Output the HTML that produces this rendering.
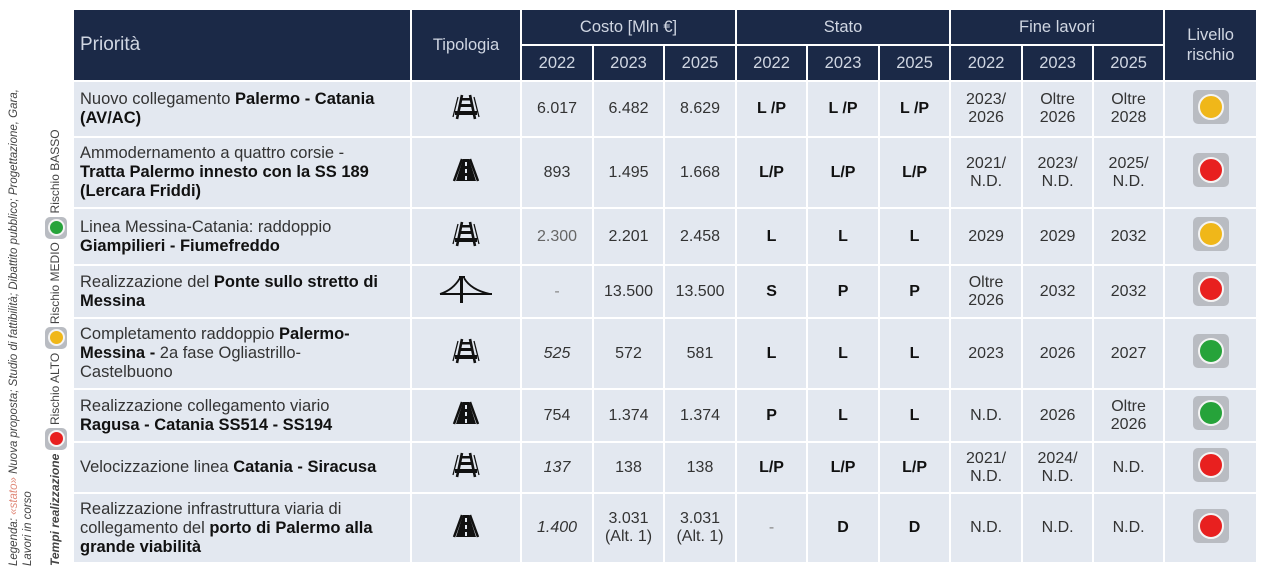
<!DOCTYPE html>
<html><head><meta charset="utf-8"><style>
body{margin:0;width:1272px;height:577px;background:#fff;position:relative;overflow:hidden;font-family:"Liberation Sans",sans-serif;}
table{position:absolute;left:72px;top:8px;border-collapse:collapse;table-layout:fixed;width:1184px;}
td,th{padding:0;border:2px solid #fff;text-align:center;vertical-align:middle;font-size:16px;color:#333;}
th{background:#1b2947;color:#d0d6e2;font-weight:normal;font-size:16.5px;}
td{background:#e3e8f0;}
td.p{text-align:left;padding-left:6px;padding-right:4px;line-height:19px;font-size:16.5px;color:#333;}
td.p b{color:#111;}
td.s{font-weight:bold;color:#111;}
td.i{font-style:italic;}
.lt{display:inline-block;width:36px;height:34px;background:#b9bcc2;border-radius:5px;position:relative;}
.lt i{position:absolute;left:5px;top:4px;width:22px;height:22px;border-radius:50%;border:2px solid #f4f4f4;}
.y i{background:#f0b719}.r i{background:#e8201f}.g i{background:#26a33a}
.leg{position:absolute;transform:rotate(-90deg);transform-origin:0 0;white-space:nowrap;font-size:11.5px;color:#444;}
</style></head><body>
<div class="leg" style="left:8px;top:566px;font-style:italic;">Legenda: <span style="color:#e08a7a">«stato»</span> Nuova proposta; Studio di fattibilità; Dibattito pubblico; Progettazione, Gara,</div>
<div class="leg" style="left:22px;top:566px;font-style:italic;">Lavori in corso</div>
<div class="leg" style="left:45px;top:566px;font-size:12px;"><b><i>Tempi realizzazione</i></b> <span class="lt r" style="width:22px;height:22px;vertical-align:middle"><i style="left:3px;top:3px;width:13px;height:13px;"></i></span> Rischio ALTO <span class="lt y" style="width:22px;height:22px;vertical-align:middle"><i style="left:3px;top:3px;width:13px;height:13px;"></i></span> Rischio MEDIO <span class="lt g" style="width:22px;height:22px;vertical-align:middle"><i style="left:3px;top:3px;width:13px;height:13px;"></i></span> Rischio BASSO</div>
<table>
<colgroup><col style="width:338px"><col style="width:110px"><col style="width:72px"><col style="width:71px"><col style="width:72px"><col style="width:71px"><col style="width:72px"><col style="width:71px"><col style="width:72px"><col style="width:71px"><col style="width:71px"><col style="width:93px"></colgroup>
<tr style="height:36px"><th rowspan="2" style="text-align:left;padding-left:6px;font-size:19px;">Priorità</th><th rowspan="2">Tipologia</th><th colspan="3">Costo [Mln €]</th><th colspan="3">Stato</th><th colspan="3">Fine lavori</th><th rowspan="2" style="line-height:20px">Livello<br>rischio</th></tr>
<tr style="height:36px"><th>2022</th><th>2023</th><th>2025</th><th>2022</th><th>2023</th><th>2025</th><th>2022</th><th>2023</th><th>2025</th></tr>
<tr style="height:56px"><td class="p">Nuovo collegamento <b>Palermo - Catania (AV/AC)</b></td><td>RAIL</td><td>6.017</td><td>6.482</td><td>8.629</td><td class="s">L /P</td><td class="s">L /P</td><td class="s">L /P</td><td>2023/<br>2026</td><td>Oltre<br>2026</td><td>Oltre<br>2028</td><td><span class="lt y"><i></i></span></td></tr>
<tr style="height:71px"><td class="p">Ammodernamento a quattro corsie -<br><b>Tratta Palermo innesto con la SS 189 (Lercara Friddi)</b></td><td>ROAD</td><td>893</td><td>1.495</td><td>1.668</td><td class="s">L/P</td><td class="s">L/P</td><td class="s">L/P</td><td>2021/<br>N.D.</td><td>2023/<br>N.D.</td><td>2025/<br>N.D.</td><td><span class="lt r"><i></i></span></td></tr>
<tr style="height:57px"><td class="p">Linea Messina-Catania: raddoppio<br><b>Giampilieri - Fiumefreddo</b></td><td>RAIL</td><td style="color:#666">2.300</td><td>2.201</td><td>2.458</td><td class="s">L</td><td class="s">L</td><td class="s">L</td><td>2029</td><td>2029</td><td>2032</td><td><span class="lt y"><i></i></span></td></tr>
<tr style="height:53px"><td class="p">Realizzazione del <b>Ponte sullo stretto di Messina</b></td><td>BRIDGE</td><td style="color:#888">-</td><td>13.500</td><td>13.500</td><td class="s">S</td><td class="s">P</td><td class="s">P</td><td>Oltre<br>2026</td><td>2032</td><td>2032</td><td><span class="lt r"><i></i></span></td></tr>
<tr style="height:71px"><td class="p">Completamento raddoppio <b>Palermo-<br>Messina -</b> 2a fase Ogliastrillo-<br>Castelbuono</td><td>RAIL</td><td class="i">525</td><td>572</td><td>581</td><td class="s">L</td><td class="s">L</td><td class="s">L</td><td>2023</td><td>2026</td><td>2027</td><td><span class="lt g"><i></i></span></td></tr>
<tr style="height:53px"><td class="p">Realizzazione collegamento viario<br><b>Ragusa - Catania SS514 - SS194</b></td><td>ROAD</td><td>754</td><td>1.374</td><td>1.374</td><td class="s">P</td><td class="s">L</td><td class="s">L</td><td>N.D.</td><td>2026</td><td>Oltre<br>2026</td><td><span class="lt g"><i></i></span></td></tr>
<tr style="height:51px"><td class="p">Velocizzazione linea <b>Catania - Siracusa</b></td><td>RAIL</td><td class="i">137</td><td>138</td><td>138</td><td class="s">L/P</td><td class="s">L/P</td><td class="s">L/P</td><td>2021/<br>N.D.</td><td>2024/<br>N.D.</td><td>N.D.</td><td><span class="lt r"><i></i></span></td></tr>
<tr style="height:70px"><td class="p">Realizzazione infrastruttura viaria di collegamento del <b>porto di Palermo alla grande viabilità</b></td><td>ROAD</td><td class="i">1.400</td><td>3.031<br>(Alt. 1)</td><td>3.031<br>(Alt. 1)</td><td style="color:#888">-</td><td class="s">D</td><td class="s">D</td><td>N.D.</td><td>N.D.</td><td>N.D.</td><td><span class="lt r"><i></i></span></td></tr>
</table>
<script>
var rail='<svg width="34" height="26" viewBox="0 0 34 26"><path d="M13 1 L8 25 M21 1 L26 25" stroke="#111" stroke-width="2.6"/><rect x="12" y="4" width="10" height="2.5" fill="#111"/><rect x="10" y="10" width="14" height="3" fill="#111"/><rect x="6" y="17" width="22" height="4" fill="#111"/><path d="M9 3 L4 23" stroke="#111" stroke-width="1.3"/><path d="M25 3 L30 23" stroke="#111" stroke-width="1.3"/></svg>';
var road='<svg width="34" height="26" viewBox="0 0 34 26"><path d="M13 2 L5 24 M21 2 L29 24" stroke="#111" stroke-width="2.5"/><path d="M14 2 L20 2 L27 24 L7 24Z" fill="#111"/><rect x="16" y="5" width="2" height="4" fill="#e3e8f0"/><rect x="16" y="12" width="2" height="4" fill="#e3e8f0"/><rect x="16" y="19" width="2" height="4" fill="#e3e8f0"/></svg>';
var bridge='<svg width="56" height="30" viewBox="0 0 56 30"><path d="M2 20 Q15 16 22 4 M26 4 Q33 16 52 20" stroke="#111" stroke-width="1.8" fill="none"/><rect x="21" y="2" width="6" height="2" fill="#111"/><rect x="22" y="2" width="3" height="27" fill="#111"/><rect x="2" y="19" width="52" height="2" fill="#111"/></svg>';
document.querySelectorAll('td').forEach(function(t){if(t.textContent=='RAIL')t.innerHTML=rail;else if(t.textContent=='ROAD')t.innerHTML=road;else if(t.textContent=='BRIDGE')t.innerHTML=bridge;});
</script>
</body></html>
